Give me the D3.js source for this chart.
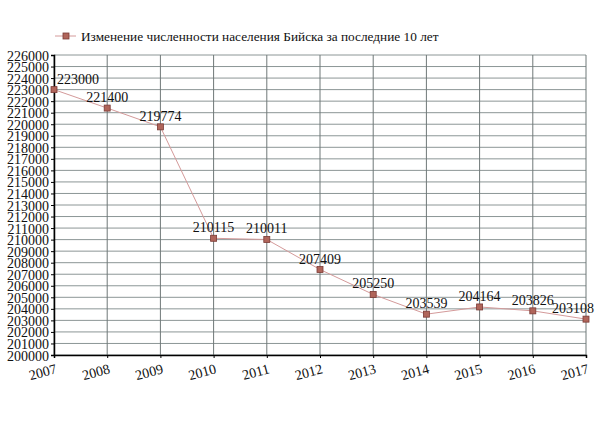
<!DOCTYPE html>
<html>
<head>
<meta charset="utf-8">
<script src="https://cdn.jsdelivr.net/npm/d3@7"></script>
<style>
  body { margin: 0; background: #fff; }
  text { font-family: "Liberation Serif", "Times New Roman", serif; fill: #111; }
</style>
</head>
<body>
<div id="chart"></div>
<script>
const years = [2007, 2008, 2009, 2010, 2011, 2012, 2013, 2014, 2015, 2016, 2017];
const population = [223000, 221400, 219774, 210115, 210011, 207409, 205250, 203539, 204164, 203826, 203108];
const seriesName = "Изменение численности населения Бийска за последние 10 лет";
const yTicks = d3.range(200000, 226001, 1000);

const width = 604;
const height = 444;
const margin = { top: 55, right: 18, bottom: 89, left: 54 };
const serif = "'Liberation Serif', 'Times New Roman', serif";

const svg = d3.select("#chart")
    .append("svg")
    .attr("width", width)
    .attr("height", height);

const x = d3.scaleLinear()
    .domain([years[0], years[years.length - 1]])
    .range([margin.left, width - margin.right]);

const y = d3.scaleLinear()
    .domain([200000, 226000])
    .range([height - margin.bottom, margin.top]);

// grid
svg.append("g")
    .selectAll("line")
    .data(yTicks)
    .enter().append("line")
    .attr("x1", margin.left)
    .attr("x2", width - margin.right)
    .attr("y1", d => y(d))
    .attr("y2", d => y(d))
    .attr("stroke", "#8c9696")
    .attr("stroke-width", 1);

svg.append("g")
    .selectAll("line")
    .data(years)
    .enter().append("line")
    .attr("x1", d => x(d))
    .attr("x2", d => x(d))
    .attr("y1", margin.top)
    .attr("y2", height - margin.bottom)
    .attr("stroke", "#6f7878")
    .attr("stroke-width", 1);

// axes
const yAxis = svg.append("g")
    .attr("transform", `translate(${margin.left},0)`)
    .call(d3.axisLeft(y).tickValues(yTicks).tickSize(3).tickFormat(d3.format("d")))
    .attr("font-family", serif);
yAxis.selectAll("text").attr("font-size", 14).attr("dx", 1).attr("dy", "0.36em");

const xAxis = svg.append("g")
    .attr("transform", `translate(0,${height - margin.bottom})`)
    .call(d3.axisBottom(x).tickValues(years).tickSize(3).tickFormat(d3.format("d")))
    .attr("font-family", serif);
xAxis.selectAll("text")
    .attr("font-size", 14)
    .attr("text-anchor", "end")
    .attr("dy", 0)
    .attr("y", 0)
    .attr("transform", "translate(3,18) rotate(-15)");

svg.selectAll(".domain").attr("stroke", "#000").attr("stroke-width", 1.5);
svg.selectAll(".tick line").attr("stroke", "#000");

// series
const line = d3.line()
    .x((d, i) => x(years[i]))
    .y(d => y(d));

svg.append("path")
    .datum(population)
    .attr("d", line)
    .attr("fill", "none")
    .attr("stroke", "#d49a9a")
    .attr("stroke-width", 1);

svg.append("g")
    .selectAll("rect")
    .data(population)
    .enter().append("rect")
    .attr("x", (d, i) => x(years[i]) - 3)
    .attr("y", d => y(d) - 3)
    .attr("width", 6)
    .attr("height", 6)
    .attr("fill", "#b0655a")
    .attr("stroke", "#7a3a35")
    .attr("stroke-width", 0.8);

// value labels
const labels = svg.append("g")
    .attr("font-family", serif)
    .selectAll("text")
    .data(population)
    .enter().append("text")
    .attr("font-size", 14)
    .attr("text-anchor", "middle")
    .attr("y", d => y(d) - 6)
    .text(d => d);

labels.attr("x", function (d, i) {
    const w = this.getComputedTextLength();
    let cx = x(years[i]);
    cx = Math.max(cx, margin.left + 3 + w / 2);
    cx = Math.min(cx, width - 10 - w / 2);
    return cx;
});

// legend
const legend = svg.append("g").attr("transform", "translate(55,36)");
legend.append("line")
    .attr("x1", 0).attr("x2", 21)
    .attr("stroke", "#d49a9a");
legend.append("rect")
    .attr("x", 8).attr("y", -3)
    .attr("width", 6).attr("height", 6)
    .attr("fill", "#b0655a")
    .attr("stroke", "#7a3a35")
    .attr("stroke-width", 0.8);
legend.append("text")
    .attr("x", 26)
    .attr("y", 5)
    .attr("font-family", serif)
    .attr("font-size", 13.3)
    .text(seriesName);
</script>
</body>
</html>
